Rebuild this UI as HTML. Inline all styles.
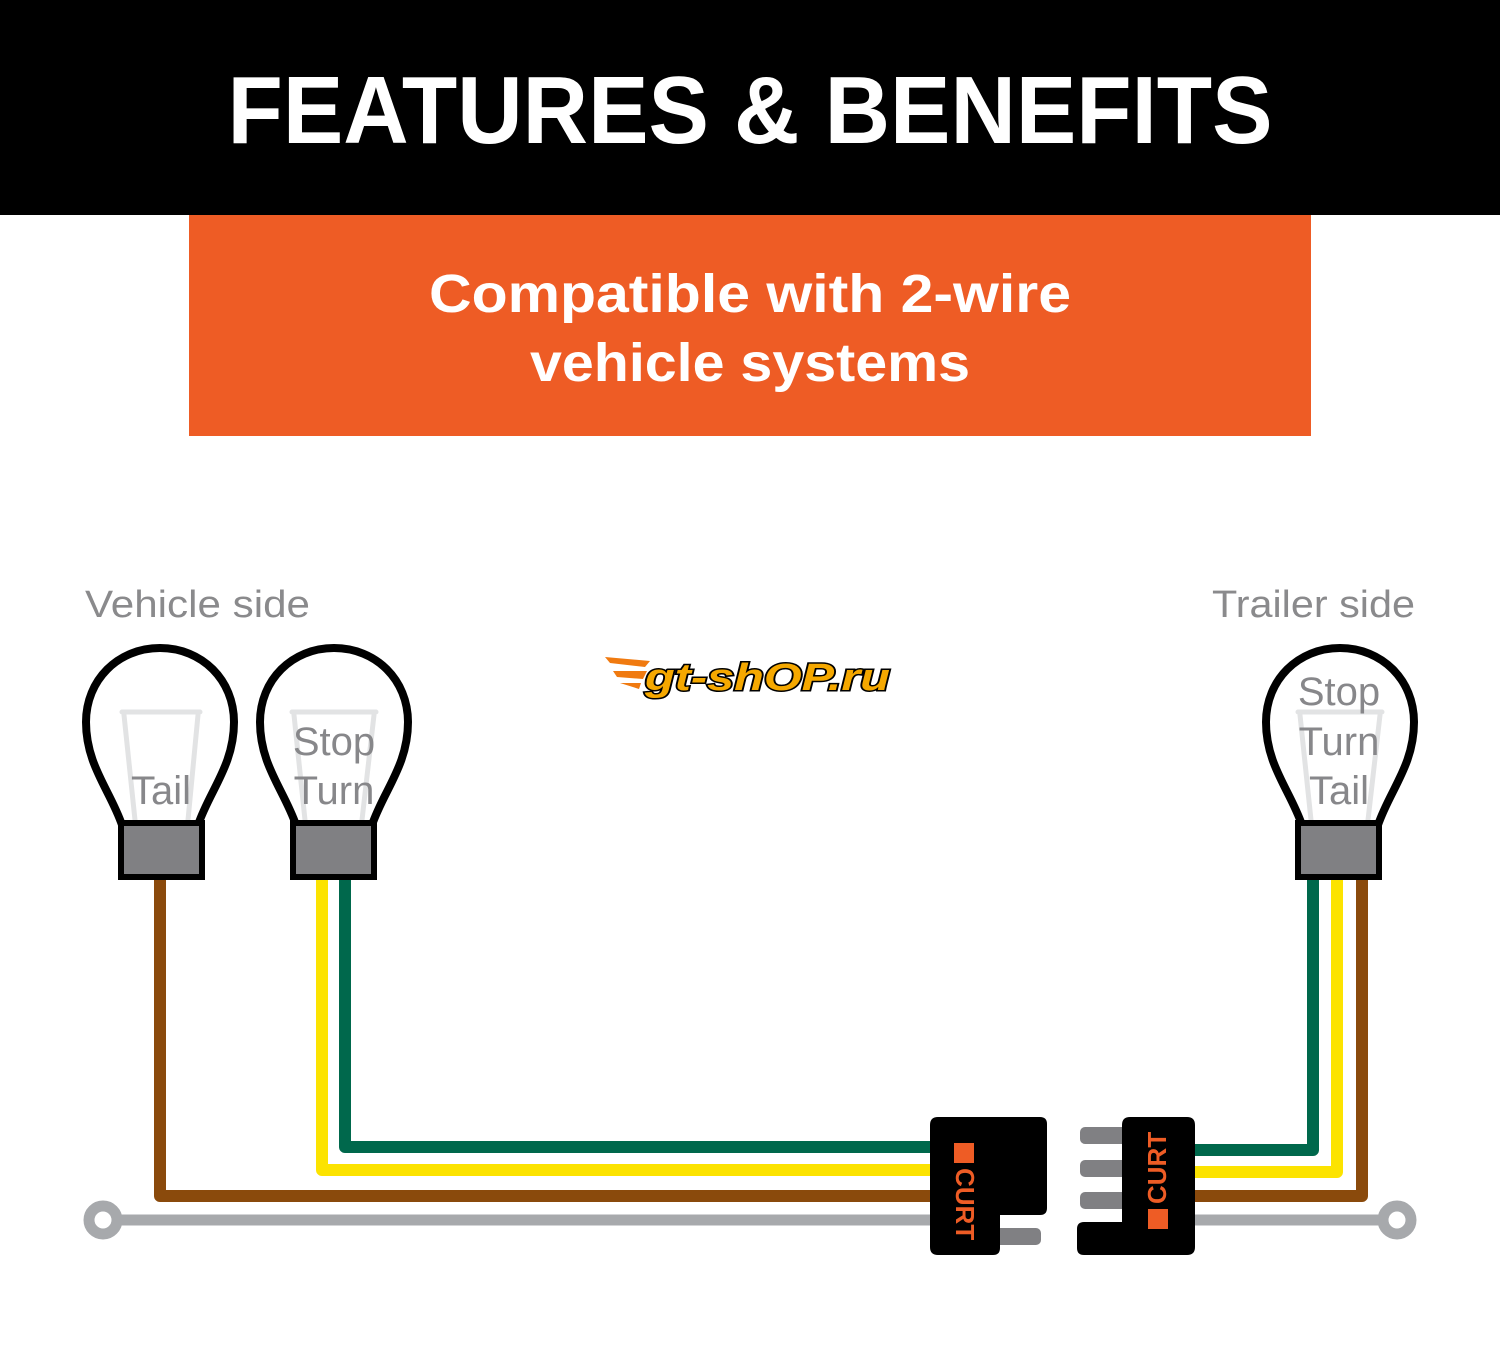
<!DOCTYPE html>
<html><head><meta charset="utf-8"><style>
html,body{margin:0;padding:0;background:#fff;}
svg{display:block;}
</style></head><body>
<svg width="1500" height="1350" viewBox="0 0 1500 1350" xmlns="http://www.w3.org/2000/svg" font-family="Liberation Sans, sans-serif">
<rect x="0" y="0" width="1500" height="215" fill="#000"/>
<text x="750" y="143" text-anchor="middle" font-size="96" font-weight="bold" fill="#fff" textLength="1045" lengthAdjust="spacingAndGlyphs">FEATURES &amp; BENEFITS</text>
<rect x="189" y="215" width="1122" height="221" fill="#EE5C25"/>
<text x="750" y="312" text-anchor="middle" font-size="54" font-weight="bold" fill="#fff" textLength="642" lengthAdjust="spacingAndGlyphs">Compatible with 2-wire</text>
<text x="750" y="381" text-anchor="middle" font-size="54" font-weight="bold" fill="#fff" textLength="440" lengthAdjust="spacingAndGlyphs">vehicle systems</text>

<text x="85" y="617" font-size="38" fill="#8a8a8c" textLength="225" lengthAdjust="spacingAndGlyphs">Vehicle side</text>
<text x="1212" y="617" font-size="38" fill="#8a8a8c" textLength="203" lengthAdjust="spacingAndGlyphs">Trailer side</text>

<g transform="translate(605,657)">
<path d="M0 0 L45 4 L40 10 L5 6 Z M8 14 L42 14 L38 22 L12 20 Z M15 26 L36 26 L34 32 Z" fill="#f07a10"/>
<text x="40" y="33" font-size="38" font-weight="bold" font-style="italic" fill="#f5a800" stroke="#000" stroke-width="3" paint-order="stroke" textLength="245" lengthAdjust="spacingAndGlyphs">gt-shOP.ru</text>
</g>

<g fill="none" stroke-width="12" stroke-linejoin="round">
<polyline points="160,878 160,1196 935,1196" stroke="#8A4A0C"/>
<polyline points="322,878 322,1170 935,1170" stroke="#FCE300"/>
<polyline points="345,878 345,1147 935,1147" stroke="#00684C"/>
<polyline points="1190,1150 1313,1150 1313,878" stroke="#00684C"/>
<polyline points="1190,1172 1337,1172 1337,878" stroke="#FCE300"/>
<polyline points="1190,1196 1362,1196 1362,878" stroke="#8A4A0C"/>
<line x1="103" y1="1220" x2="935" y2="1220" stroke="#a7a9ac" stroke-width="11"/>
<line x1="1190" y1="1220" x2="1397" y2="1220" stroke="#a7a9ac" stroke-width="11"/>
</g>
<circle cx="103" cy="1220" r="14" fill="#fff" stroke="#a7a9ac" stroke-width="11"/>
<circle cx="1397" cy="1220" r="14" fill="#fff" stroke="#a7a9ac" stroke-width="11"/>

<rect x="995" y="1228" width="46" height="17" rx="5" fill="#808083"/>
<path d="M938 1117 H1040 Q1047 1117 1047 1124 V1208 Q1047 1215 1040 1215 H1000 V1248 Q1000 1255 993 1255 H938 Q930 1255 930 1247 V1125 Q930 1117 938 1117 Z" fill="#000"/>
<rect x="1080" y="1127" width="48" height="17" rx="5" fill="#808083"/>
<rect x="1080" y="1160" width="48" height="17" rx="5" fill="#808083"/>
<rect x="1080" y="1192" width="48" height="17" rx="5" fill="#808083"/>
<path d="M1130 1117 H1187 Q1195 1117 1195 1125 V1247 Q1195 1255 1187 1255 H1084 Q1077 1255 1077 1248 V1229 Q1077 1222 1084 1222 H1122 V1125 Q1122 1117 1130 1117 Z" fill="#000"/>
<g fill="#EE5C25">
<rect x="954" y="1143" width="20" height="20"/>
<text transform="translate(956,1168) rotate(90)" font-size="26" font-weight="bold" fill="#EE5C25">CURT</text>
<rect x="1148" y="1209" width="20" height="20"/>
<text transform="translate(1166,1204) rotate(-90)" font-size="26" font-weight="bold" fill="#EE5C25">CURT</text>
</g>

<g stroke-linecap="round">
<g stroke="#e2e3e4" stroke-width="5" fill="none">
<path d="M122 712 H200 M124 715 L135 820 M198 715 L188 820"/>
<path d="M292 712 H376 M294 715 L305 820 M374 715 L362 820"/>
<path d="M1298 712 H1382 M1300 715 L1311 820 M1380 715 L1368 820"/>
</g>
</g>
<g fill="none" stroke="#000" stroke-width="8">
<path d="M122 825 C110 790 86 765 86 722 C86 680 118 648 160 648 C202 648 234 680 234 722 C234 765 210 790 198 825"/>
<path d="M296 825 C284 790 260 765 260 722 C260 680 292 648 334 648 C376 648 408 680 408 722 C408 765 384 790 372 825"/>
<path d="M1302 825 C1290 790 1266 765 1266 722 C1266 680 1298 648 1340 648 C1382 648 1414 680 1414 722 C1414 765 1390 790 1378 825"/>
</g>
<rect x="121" y="823" width="81" height="54" fill="#808083" stroke="#000" stroke-width="6"/>
<rect x="293" y="823" width="81" height="54" fill="#808083" stroke="#000" stroke-width="6"/>
<rect x="1298" y="823" width="81" height="54" fill="#808083" stroke="#000" stroke-width="6"/>
<g font-size="40" fill="#87878a" text-anchor="middle">
<text x="161" y="804">Tail</text>
<text x="334" y="755">Stop</text>
<text x="334" y="804">Turn</text>
<text x="1339" y="705">Stop</text>
<text x="1339" y="755">Turn</text>
<text x="1339" y="804">Tail</text>
</g>
</svg>
</body></html>
